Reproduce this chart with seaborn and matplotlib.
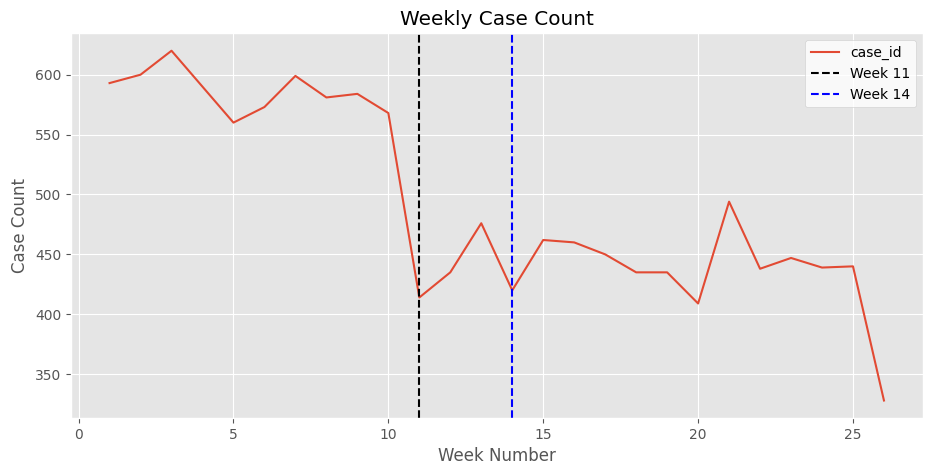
import pandas as pd
import matplotlib
matplotlib.use('Agg')
import matplotlib.pyplot as plt
import seaborn as sns

# Weekly counts
weeks = list(range(1, 27))
case_counts = [593, 600, 620, 590, 560, 573, 599, 581, 584, 568,
               414, 435, 476, 420, 462, 460, 450, 435, 435, 409,
               494, 438, 447, 439, 440, 328]
marker_weeks = [11, 14]
marker_colors = ['black', 'blue']

weekly_df = pd.DataFrame({'week': weeks, 'case_id': case_counts})

plt.style.use('ggplot')
fig, ax = plt.subplots(figsize=(9.32, 4.75), dpi=100)
sns.lineplot(data=weekly_df, x='week', y='case_id', ax=ax, label='case_id',
             color='#E24A33', linewidth=1.5)
for wk, col in zip(marker_weeks, marker_colors):
    ax.axvline(wk, color=col, linestyle='--', label=f'Week {wk}')

ax.set_title('Weekly Case Count')
ax.set_xlabel('Week Number')
ax.set_ylabel('Case Count')
ax.legend(loc='upper right', facecolor='white', edgecolor='#cccccc')
plt.subplots_adjust(left=0.076, right=0.99, top=0.93, bottom=0.12)
plt.savefig('out.png')
